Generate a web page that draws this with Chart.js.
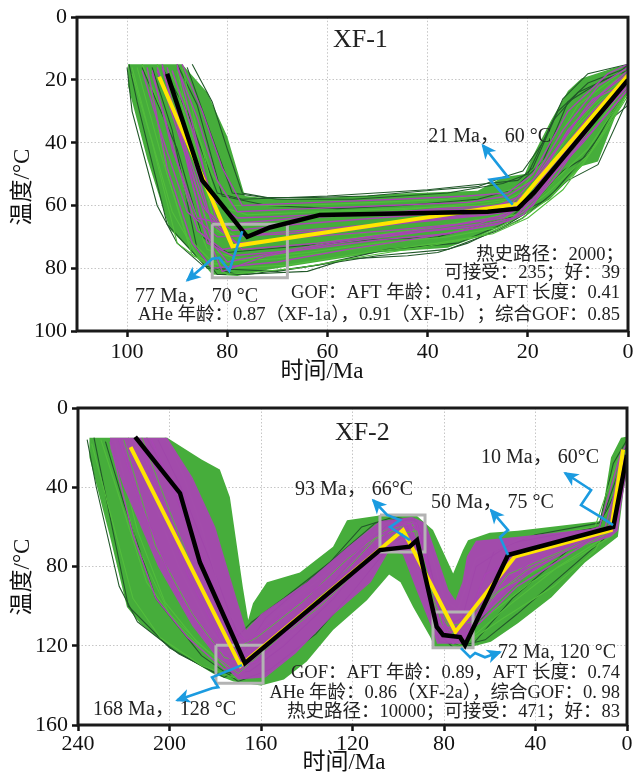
<!DOCTYPE html>
<html>
<head>
<meta charset="utf-8">
<title>XF-1 / XF-2 热史模拟</title>
<script src="https://cdn.jsdelivr.net/npm/chart.js@4.4.1/dist/chart.umd.min.js"></script>
<style>
  html, body { margin: 0; padding: 0; background: #fff; }
  #wrap { position: relative; width: 638px; height: 777px; }
  canvas { position: absolute; left: 0; }
  #c1 { top: 0; }
  #c2 { top: 388px; }
</style>
</head>
<body>
<div id="wrap">
  <canvas id="c1" width="638" height="388"></canvas>
  <canvas id="c2" width="638" height="389"></canvas>
</div>
<script>
// ---------- XF-1 (time Ma, temperature °C) ----------
const xf1TimeTicks = [100, 80, 60, 40, 20, 0];
const xf1TempTicks = [0, 20, 40, 60, 80, 100];

// outline of the acceptable-path envelope
const xf1Accepted = [
  [99.8, 15], [89, 15], [84, 24], [80, 38], [76.5, 57], [70, 58], [60, 57.5], [45, 56.2],
  [30, 55.3], [25, 51], [20.6, 50], [19.4, 45.5], [15.4, 33], [12, 23.5], [9.3, 19.5], [2.6, 16], [0, 15.2],
  [0, 24], [2.6, 32], [6, 46], [9.3, 47.5], [15.6, 58], [22.3, 64.5], [30, 70], [36, 73.5], [50, 75],
  [64, 78.5], [72, 80.5], [78, 82.5], [83, 82], [86, 76.5], [91.5, 67.5], [96, 45], [99.8, 22]
];
const xf1DarkPaths = [
  [[99.6, 15], [98, 27], [92, 66], [84, 80], [70, 81], [50, 76], [36, 74], [26, 68], [21, 64], [12, 52], [6, 47], [0, 26]],
  [[93, 16], [88, 30], [82, 56], [77, 58], [60, 57], [40, 55], [28, 53], [22, 52], [19, 48], [14, 30], [8, 21], [0, 16]],
  [[97, 16], [90, 42], [85, 70], [80, 75], [66, 73], [52, 71], [38, 70], [24, 64], [16, 58], [9, 45], [3, 32], [0, 28]],
  [[90, 15], [86, 28], [81, 57], [72, 60], [58, 61], [45, 60], [30, 58], [23, 55], [17, 46], [12, 27], [5, 20], [0, 17]],
  [[95, 16], [91, 36], [86, 74], [82, 82], [76, 82], [62, 79], [48, 74], [34, 72], [25, 66], [18, 56], [10, 38], [0, 22]],
  [[88, 16], [84, 34], [79, 56], [70, 58], [55, 58], [36, 56], [25, 53], [20, 50], [15, 33], [10, 24], [2, 18], [0, 15]],
  [[100, 16], [99, 30], [94, 60], [90, 72], [85, 79], [78, 82], [64, 81], [56, 77], [44, 76], [38, 75], [32, 72], [24, 66], [20, 62], [13, 49], [8, 44], [3, 30], [0, 23]],
  [[87, 15], [83, 27], [80, 42], [77, 56], [72, 57.5], [64, 57.5], [52, 57], [38, 55], [30, 54], [25, 51], [21, 49], [17, 40], [13, 26], [8, 18], [0, 15]]
];
const xf1GreenPaths = [
  [[98, 16], [93, 45], [88, 70], [83, 78], [70, 77], [55, 74], [40, 70], [28, 66], [21, 62], [15, 50], [7, 36], [0, 21]],
  [[94, 15], [90, 34], [84, 65], [78, 70], [64, 68], [48, 66], [32, 63], [23, 60], [18, 52], [12, 38], [5, 26], [0, 19]],
  [[91, 17], [87, 40], [83, 63], [79, 66], [65, 64], [50, 62], [35, 60], [24, 58], [19, 54], [14, 41], [7, 28], [0, 18]],
  [[96, 17], [92, 50], [87, 76], [80, 80], [68, 79], [52, 75], [38, 72], [27, 69], [20, 64], [13, 55], [6, 40], [0, 25]],
  [[89, 16], [86, 36], [82, 60], [76, 63], [62, 62], [46, 61], [30, 60], [22, 58], [17, 50], [11, 34], [4, 22], [0, 17]],
  [[99, 18], [95, 40], [90, 72], [84, 79], [72, 76], [58, 71], [44, 68], [30, 65], [22, 63], [16, 56], [8, 44], [0, 24]],
  [[97, 15], [93, 30], [88, 58], [84, 74], [78, 77], [64, 75], [50, 72], [36, 70], [26, 67], [20, 62], [14, 51], [8, 42], [0, 23]],
  [[92, 16], [88, 28], [83, 50], [79, 60], [66, 60], [50, 59], [36, 58], [26, 56], [21, 54], [16, 44], [10, 28], [0, 16]],
  [[99, 16], [96, 34], [91, 62], [86, 76], [80, 82], [66, 80], [52, 76], [40, 73], [30, 70], [22, 65], [16, 58], [9, 47], [0, 24]],
  [[90, 17], [86, 44], [82, 68], [78, 72], [66, 70], [54, 69], [40, 67], [28, 64], [21, 61], [15, 52], [8, 36], [0, 21]]
];
const xf1GoodPaths = [
  [[94, 17], [89, 38], [84, 62], [79, 68], [66, 66], [50, 64], [34, 62], [23, 60], [18, 52], [12, 36], [5, 24], [0, 18]],
  [[92, 16], [88, 44], [83, 72], [80, 78], [67, 74], [52, 70], [38, 67], [25, 64], [19, 57], [13, 44], [6, 30], [0, 20]],
  [[95, 18], [90, 46], [86, 68], [81, 74], [70, 71], [56, 68], [42, 65], [28, 62], [21, 60], [15, 47], [8, 34], [0, 22]],
  [[90, 16], [86, 32], [82, 52], [78, 62], [64, 61], [48, 60], [32, 59], [24, 57], [19, 52], [13, 36], [6, 22], [0, 16]],
  [[93, 15], [89, 40], [85, 66], [81, 81], [72, 76], [58, 72], [44, 69], [30, 66], [22, 61], [16, 52], [9, 40], [0, 23]],
  [[91, 17], [87, 36], [83, 58], [78, 64], [62, 63], [46, 62], [31, 61], [23, 59], [18, 50], [13, 39], [7, 26], [0, 21]],
  [[96, 16], [92, 48], [87, 72], [83, 80], [70, 78], [56, 74], [40, 70], [26, 66], [21, 63], [14, 50], [7, 34], [0, 21]],
  [[89, 15], [85, 30], [81, 48], [77, 60], [62, 59], [46, 58], [32, 57], [24, 56], [19, 50], [12, 30], [4, 18], [0, 15]],
  [[94, 16], [90, 36], [85, 60], [80, 70], [66, 68], [50, 66], [36, 64], [24, 62], [20, 58], [14, 44], [7, 30], [0, 19]],
  [[92, 18], [87, 44], [83, 66], [78, 72], [64, 70], [48, 68], [34, 66], [24, 63], [19, 58], [13, 46], [6, 32], [0, 22]],
  [[95, 17], [91, 42], [86, 64], [80, 66], [66, 64], [52, 63], [38, 61], [26, 60], [20, 56], [15, 44], [8, 28], [0, 17]],
  [[90, 15], [86, 40], [82, 66], [77, 74], [62, 72], [46, 69], [32, 67], [23, 64], [18, 57], [12, 42], [5, 28], [0, 20]],
  [[93, 16], [88, 46], [84, 72], [79, 76], [64, 74], [50, 71], [36, 69], [24, 65], [19, 60], [14, 48], [7, 36], [0, 23]],
  [[97, 17], [93, 38], [88, 62], [82, 70], [68, 69], [54, 67], [40, 65], [28, 63], [21, 61], [16, 50], [9, 36], [0, 20]]
];
const xf1BestFit = [[92, 18], [85, 52], [76, 70], [71.5, 67], [61.5, 63], [28, 62], [22, 61], [18.6, 55.6], [0, 20]];
const xf1MeanPath = [[93.6, 19], [79, 73], [22, 59.5], [18.6, 53], [0, 18.5]];
// constraint boxes: [older t, younger t, upper T, lower T]
const xf1Boxes = [[83, 68, 66, 83]];
const xf1Arrows = [
  [[77, 68.2], [79.6, 80.8], [81.6, 76.7], [83, 77], [88, 83.9]],
  [[23, 59.7], [27.6, 51.8], [24, 50.9], [29, 40.8]]
];
const xf1Stats = [
  '热史路径：2000；',
  '可接受：235；好：39',
  'GOF：AFT 年龄：0.41，AFT 长度：0.41',
  'AHe 年龄：0.87（XF-1a），0.91（XF-1b）；综合GOF：0.85'
];

// ---------- XF-2 ----------
const xf2TimeTicks = [240, 200, 160, 120, 80, 40, 0];
const xf2TempTicks = [0, 40, 80, 120, 160];

const xf2Accepted = [
  [235, 15], [201, 15], [186, 26], [178, 31], [173.6, 45], [168, 90], [165.6, 107], [163.5, 98.5],
  [157.4, 88], [143, 83], [128.5, 70], [122.4, 56.6], [106.7, 54], [91.8, 54.5], [84.8, 61.6], [76, 83.5],
  [71.7, 71.7], [69.5, 66.7], [60, 63], [47.7, 62], [11.4, 57], [7, 25], [2.6, 15], [0.4, 14.5],
  [0, 28], [4, 65], [18.4, 78], [33, 95.5], [47.7, 108.6], [59.5, 118], [69.5, 121], [84, 121],
  [86, 115.6], [93.5, 100.5], [99, 88], [104, 84], [113.7, 97], [128.5, 112], [140, 128], [150, 137],
  [160, 140], [172, 138], [181, 134], [199.8, 121], [212.9, 108.6], [218.6, 100.5], [226, 65], [235, 25]
];
const xf2Good = [
  [226, 15], [201, 15], [190, 35], [180, 60], [171, 95], [166.5, 112], [160, 104], [140, 88], [122, 70],
  [108, 57], [94, 55], [88, 58], [83, 75], [78, 92], [75, 97], [72, 88], [70, 75], [66, 67], [47.7, 65],
  [8.3, 60], [2.6, 20], [0.5, 30], [4, 62], [7, 65], [25.8, 72], [44.6, 85], [60, 102], [68.6, 112],
  [70, 119], [83, 119], [85, 112], [92, 92], [98, 74], [104, 72], [112, 88], [128, 104], [145, 124],
  [158, 136], [170, 137], [178, 128], [190, 110], [205, 80], [220, 40], [226, 20]
];
const xf2DarkPaths = [
  [[236, 16], [232, 40], [222, 90], [214, 108], [196, 124], [176, 136], [162, 126], [140, 105], [120, 76], [104, 58], [93, 56], [86, 80], [80, 112], [72, 119], [58, 98], [40, 80], [14, 64], [4, 40], [0, 22]],
  [[233, 15], [226, 55], [218, 100], [200, 121], [180, 134], [165, 133], [150, 120], [128, 96], [106, 64], [96, 60], [86, 100], [82, 118], [68, 120], [50, 96], [24, 70], [6, 62], [0, 26]],
  [[205, 16], [195, 40], [182, 78], [170, 115], [164, 108], [150, 96], [130, 78], [116, 60], [102, 55], [92, 57], [84, 90], [79, 110], [72, 106], [66, 80], [50, 68], [12, 60], [3, 30], [0, 17]],
  [[228, 17], [220, 48], [206, 96], [186, 125], [170, 138], [156, 132], [136, 114], [118, 90], [104, 70], [97, 64], [90, 82], [84, 112], [76, 121], [62, 117], [48, 104], [28, 84], [10, 66], [2, 36], [0, 28]],
  [[210, 15], [200, 36], [190, 66], [176, 112], [168, 124], [158, 106], [142, 90], [126, 74], [110, 58], [100, 56], [90, 63], [82, 100], [76, 118], [66, 96], [58, 72], [40, 64], [12, 58], [6, 28], [0, 16]]
];
const xf2GreenPaths = [
  [[230, 16], [220, 52], [210, 88], [196, 110], [182, 126], [168, 130], [150, 112], [132, 94], [112, 72], [100, 62], [90, 70], [82, 108], [74, 116], [60, 104], [42, 88], [20, 74], [6, 64], [0, 32]],
  [[218, 15], [208, 44], [196, 80], [182, 112], [172, 126], [158, 118], [140, 100], [122, 82], [106, 64], [96, 58], [88, 76], [80, 106], [70, 112], [56, 88], [36, 74], [10, 62], [2, 30], [0, 20]],
  [[224, 16], [214, 62], [202, 98], [188, 118], [174, 132], [160, 122], [144, 106], [124, 86], [108, 68], [98, 62], [89, 88], [83, 114], [72, 120], [54, 106], [32, 90], [14, 72], [4, 50], [0, 30]],
  [[202, 15], [194, 34], [186, 60], [176, 100], [166, 118], [152, 102], [134, 86], [116, 68], [104, 58], [94, 58], [86, 72], [80, 96], [74, 102], [66, 76], [46, 66], [14, 60], [4, 26], [0, 18]],
  [[234, 18], [228, 44], [216, 96], [204, 116], [186, 130], [172, 136], [160, 128], [142, 110], [124, 88], [108, 70], [96, 66], [86, 96], [80, 116], [70, 118], [52, 100], [30, 80], [8, 64], [0, 26]]
];
// acceptable paths running through the core of the good-path band
const xf2CorePaths = [
  [[220, 16], [206, 70], [190, 104], [176, 126], [166, 128], [146, 108], [126, 86], [110, 66], [98, 60], [88, 82], [80, 112], [72, 116], [56, 92], [30, 76], [8, 63], [0, 26]],
  [[212, 15], [200, 52], [186, 92], [172, 122], [162, 116], [142, 98], [122, 76], [106, 62], [94, 58], [86, 88], [78, 110], [68, 108], [52, 84], [24, 70], [5, 58], [0, 20]],
  [[226, 18], [214, 70], [200, 104], [184, 122], [170, 134], [154, 118], [134, 100], [116, 80], [102, 64], [92, 62], [84, 100], [76, 114], [64, 100], [44, 82], [16, 66], [2, 40], [0, 24]]
];
const xf2GoodPaths = [
  [[222, 16], [212, 50], [198, 90], [184, 116], [172, 128], [160, 120], [138, 98], [118, 78], [104, 62], [95, 60], [88, 84], [82, 112], [72, 116], [58, 96], [36, 78], [10, 62], [2, 28], [0, 22]],
  [[214, 15], [204, 46], [192, 84], [178, 116], [168, 128], [154, 114], [134, 94], [114, 74], [102, 60], [92, 58], [85, 90], [80, 110], [70, 114], [60, 94], [40, 76], [8, 62], [0, 24]],
  [[226, 17], [216, 64], [206, 96], [192, 116], [176, 132], [162, 128], [146, 110], [126, 90], [110, 74], [100, 64], [90, 74], [84, 104], [76, 119], [64, 108], [48, 90], [20, 70], [4, 56], [0, 30]],
  [[208, 16], [198, 42], [186, 76], [174, 110], [166, 118], [150, 104], [130, 86], [112, 66], [98, 58], [90, 62], [84, 96], [78, 114], [70, 108], [62, 84], [44, 72], [12, 60], [3, 24], [0, 18]]
];
const xf2BestFit = [[215, 14.6], [195.4, 43], [186.7, 78], [167, 128.8], [108, 71.7], [95, 70], [91.8, 66.7], [83.2, 110.4], [80.4, 114.6], [73, 115.6], [70.8, 119.7], [52, 74.2], [6, 60], [0, 23.7]];
const xf2MeanPath = [[217, 19.7], [169, 130], [97.9, 61.6], [75, 113], [49, 75], [7, 61.6], [1.7, 21]];
const xf2Boxes = [[179.7, 159.1, 119.7, 138.9], [108, 88.3, 54, 72.7], [84.8, 67.3, 103, 121]];
const xf2Arrows = [
  [[168.3, 129.8], [181.4, 135.9], [178.7, 140.9], [181.4, 141.4], [196.7, 147.5]],
  [[94.9, 66.7], [103.6, 60.1], [99.2, 56.6], [104.9, 54], [111, 46.5]],
  [[72.6, 121.2], [68.6, 125.8], [66.4, 123.7], [62.1, 125.8], [55.5, 123.2]],
  [[52, 74.2], [55.5, 65.2], [52, 61.6], [59.5, 51.5]],
  [[6.1, 59.1], [11.4, 55.1], [20.1, 49], [15.7, 41.4], [27.1, 32.8]]
];
const xf2Stats = [
  'GOF：AFT 年龄：0.89，AFT 长度：0.74',
  'AHe 年龄：0.86（XF-2a），综合GOF：0. 98',
  '热史路径：10000；可接受：471；好：83'
];

// ---------- styling ----------
const SERIF = '"Liberation Serif", "Times New Roman", "Noto Sans CJK SC", serif';
const C_DARK = '#22582a';
const C_GREEN = '#52bd3c';
const C_FILL = '#46ad3b';
const C_MAG = '#a845b3';
const C_YELLOW = '#ffe600';
const C_BOX = '#b3b3b3';
const C_ARROW = '#1b9be0';

const pts = arr => arr.map(([t, T]) => ({ x: t, y: T }));
const rect = ([t1, t2, T1, T2]) => [[t1, T1], [t2, T1], [t2, T2], [t1, T2], [t1, T1]];

function line(arr, color, width, order, extra) {
  return Object.assign({
    data: pts(arr), borderColor: color, borderWidth: width,
    pointRadius: 0, tension: 0, fill: false, order
  }, extra || {});
}
function area(arr, color, order) {
  return {
    data: pts(arr), borderColor: 'rgba(0,0,0,0)', borderWidth: 0,
    backgroundColor: color, pointRadius: 0, tension: 0, fill: 'shape', order
  };
}

// frame round the plot area
const framePlugin = {
  id: 'frame',
  afterDatasetsDraw(chart) {
    const { ctx, chartArea: a } = chart;
    ctx.save();
    ctx.strokeStyle = '#1a1a1a';
    ctx.lineWidth = 3;
    ctx.strokeRect(a.left, a.top, a.right - a.left, a.bottom - a.top);
    ctx.restore();
  }
};

// arrow heads at the last point of the annotation arrows
const arrowPlugin = {
  id: 'arrowHeads',
  afterDatasetsDraw(chart) {
    const ctx = chart.ctx;
    chart.data.datasets.forEach((ds, i) => {
      if (!ds.arrow) return;
      const p = chart.getDatasetMeta(i).data;
      const a = p[p.length - 2], b = p[p.length - 1];
      const ang = Math.atan2(b.y - a.y, b.x - a.x);
      const len = 13, half = 7;
      ctx.save();
      ctx.translate(b.x, b.y);
      ctx.rotate(ang);
      ctx.fillStyle = ds.borderColor;
      ctx.beginPath();
      ctx.moveTo(2, 0);
      ctx.lineTo(-len, -half);
      ctx.lineTo(-len + 4, 0);
      ctx.lineTo(-len, half);
      ctx.closePath();
      ctx.fill();
      ctx.restore();
    });
  }
};

// sample name, annotations, statistics and axis titles
const textPlugin = {
  id: 'texts',
  afterDraw(chart) {
    const { ctx, scales } = chart;
    const cfg = chart.options.plugins.texts;
    ctx.save();
    ctx.fillStyle = '#222';
    ctx.textBaseline = 'middle';
    cfg.notes.forEach(n => {
      ctx.font = `${n.size}px ${SERIF}`;
      ctx.textAlign = n.align || 'left';
      ctx.fillText(n.text, scales.x.getPixelForValue(n.at[0]), scales.y.getPixelForValue(n.at[1]));
    });
    ctx.fillStyle = '#111';
    ctx.font = `23px ${SERIF}`;
    ctx.textAlign = 'center';
    ctx.fillText('时间/Ma', cfg.xTitle[0], cfg.xTitle[1]);
    ctx.translate(cfg.yTitle[0], cfg.yTitle[1]);
    ctx.rotate(-Math.PI / 2);
    ctx.fillText('温度/°C', 0, 0);
    ctx.restore();
  }
};

function makePanel(id, p) {
  const datasets = [];
  p.arrows.forEach(a => datasets.push(line(a, C_ARROW, 2.6, 0, { arrow: true })));
  datasets.push(line(p.best, '#000', 4.5, 1));
  datasets.push(line(p.mean, C_YELLOW, 4, 2));
  p.boxes.forEach(b => datasets.push(line(rect(b), C_BOX, 3, 3)));
  p.goodPaths.forEach(a => datasets.push(line(a, C_MAG, 1.4, 10)));
  (p.corePaths || []).forEach(a => datasets.push(line(a, C_GREEN, 0.9, 11)));
  if (p.good) datasets.push(area(p.good, p.goodColor, 12));
  p.greenPaths.forEach(a => datasets.push(line(a, C_GREEN, 1.1, 14)));
  p.darkPaths.forEach(a => datasets.push(line(a, C_DARK, 1.1, 15)));
  datasets.push(area(p.accepted, C_FILL, 20));

  const gridOpts = { color: '#c6c6c6', lineWidth: 1, tickLength: 6, tickColor: '#111', tickWidth: 2.5 };
  return new Chart(document.getElementById(id), {
    type: 'line',
    data: { datasets },
    options: {
      responsive: false,
      animation: false,
      events: [],
      layout: { padding: p.padding },
      plugins: {
        legend: { display: false },
        tooltip: { enabled: false },
        texts: { notes: p.notes, xTitle: p.xTitle, yTitle: p.yTitle }
      },
      scales: {
        x: {
          type: 'linear', reverse: true, min: 0, max: p.tMax,
          afterBuildTicks: s => { s.ticks = p.timeTicks.map(v => ({ value: v })); },
          afterFit: s => { s.height = p.xAxisH; },
          grid: gridOpts,
          border: { display: false, dash: [1.5, 2] },
          ticks: { color: '#111', padding: p.xTickPad, maxRotation: 0, font: { family: SERIF, size: 22 } }
        },
        y: {
          type: 'linear', reverse: true, min: 0, max: p.TMax,
          afterBuildTicks: s => { s.ticks = p.tempTicks.map(v => ({ value: v })); },
          afterFit: s => { s.width = p.yAxisW; },
          grid: gridOpts,
          border: { display: false, dash: [1.5, 2] },
          ticks: { color: '#111', padding: 4, font: { family: SERIF, size: 22 } }
        }
      }
    },
    plugins: [framePlugin, arrowPlugin, textPlugin]
  });
}

makePanel('c1', {
  tMax: 110, TMax: 100, timeTicks: xf1TimeTicks, tempTicks: xf1TempTicks,
  padding: { left: 0, right: 10, top: 13.5, bottom: 0 }, yAxisW: 77, xAxisH: 57, xTickPad: 2,
  accepted: xf1Accepted, good: null, darkPaths: xf1DarkPaths, greenPaths: xf1GreenPaths,
  goodPaths: xf1GoodPaths, best: xf1BestFit, mean: xf1MeanPath, boxes: xf1Boxes, arrows: xf1Arrows,
  xTitle: [322, 372], yTitle: [23, 187],
  notes: [
    { text: 'XF-1', at: [58.9, 7.4], size: 26 },
    { text: '21 Ma， 60 °C', at: [39.9, 38], size: 20 },
    { text: '77 Ma， 70 °C', at: [98.4, 89], size: 20 },
    { text: xf1Stats[0], at: [0.8, 75.7], size: 18.5, align: 'right' },
    { text: xf1Stats[1], at: [1.6, 81.7], size: 18.5, align: 'right' },
    { text: xf1Stats[2], at: [1.6, 88], size: 18.5, align: 'right' },
    { text: xf1Stats[3], at: [1.6, 95], size: 18.5, align: 'right' }
  ]
});

makePanel('c2', {
  tMax: 240, TMax: 160, timeTicks: xf2TimeTicks, tempTicks: xf2TempTicks,
  padding: { left: 0, right: 11, top: 20, bottom: 0 }, yAxisW: 78, xAxisH: 52, xTickPad: 0,
  accepted: xf2Accepted, good: xf2Good, goodColor: 'rgba(168,69,179,0.94)', darkPaths: xf2DarkPaths,
  greenPaths: xf2GreenPaths, corePaths: xf2CorePaths, goodPaths: xf2GoodPaths, best: xf2BestFit,
  mean: xf2MeanPath, boxes: xf2Boxes, arrows: xf2Arrows,
  xTitle: [344, 375], yTitle: [23, 189],
  notes: [
    { text: 'XF-2', at: [127.7, 12.6], size: 26 },
    { text: '93 Ma， 66°C', at: [145.1, 41.4], size: 20 },
    { text: '50 Ma， 75 °C', at: [85.7, 48], size: 20 },
    { text: '10 Ma， 60°C', at: [63.8, 25.3], size: 20 },
    { text: '72 Ma, 120 °C', at: [56.4, 123.7], size: 20 },
    { text: '168 Ma， 128 °C', at: [233.4, 152.5], size: 20 },
    { text: xf2Stats[0], at: [3.1, 133.8], size: 18.5, align: 'right' },
    { text: xf2Stats[1], at: [3.1, 143.9], size: 18.5, align: 'right' },
    { text: xf2Stats[2], at: [3.1, 153.5], size: 18.5, align: 'right' }
  ]
});
</script>
</body>
</html>
